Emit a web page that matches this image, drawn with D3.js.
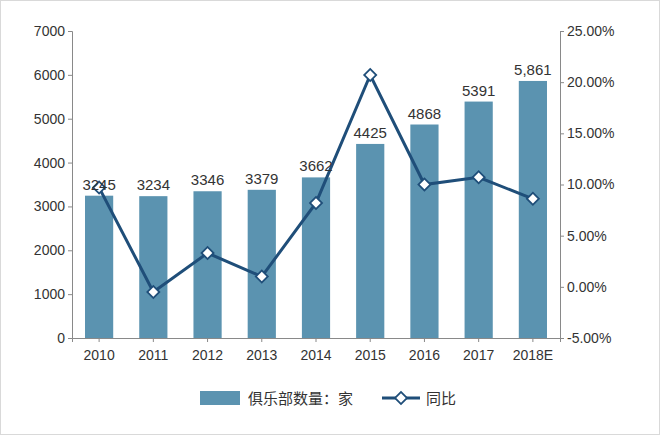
<!DOCTYPE html>
<html><head><meta charset="utf-8">
<script src="https://cdn.jsdelivr.net/npm/d3@7"></script>
<style>
body{margin:0;background:#fff;}
text{font-family:"Liberation Sans","Noto Sans CJK SC",sans-serif;}
</style></head>
<body>
<svg id="chart" width="660" height="435"></svg>
<script>
const years = ['2010','2011','2012','2013','2014','2015','2016','2017','2018E'];
const clubs = [3245, 3234, 3346, 3379, 3662, 4425, 4868, 5391, 5861];
const clubLabels = ['3245','3234','3346','3379','3662','4425','4868','5391','5,861'];
const growth = [9.7, -0.5, 3.3, 1.0, 8.2, 20.7, 10.0, 10.7, 8.6];
const leftTicks = [0,1000,2000,3000,4000,5000,6000,7000];
const rightTicks = [-5,0,5,10,15,20,25];

const svg = d3.select('#chart');
svg.append('rect').attr('x',0.5).attr('y',0.5).attr('width',659).attr('height',434)
  .attr('fill','#fff').attr('stroke','#d9d9d9');
const m = {l:72, r:560, t:31, b:338};

const x = d3.scaleBand().domain(years).range([m.l, m.r]).paddingInner(0.48).paddingOuter(0.24);
const yL = d3.scaleLinear().domain([0,7000]).range([m.b, m.t]);
const yR = d3.scaleLinear().domain([-5,25]).range([m.b, m.t]);

const axL = svg.append('g').attr('transform',`translate(${m.l},0)`)
  .call(d3.axisLeft(yL).tickValues(leftTicks).tickSize(4).tickFormat(d3.format('d')));
const axR = svg.append('g').attr('transform',`translate(${m.r},0)`)
  .call(d3.axisRight(yR).tickValues(rightTicks).tickSize(4).tickFormat(d => d.toFixed(2)+'%'));
const axB = svg.append('g').attr('transform',`translate(0,${m.b})`)
  .call(d3.axisBottom(x).tickSize(4));
[axL, axR, axB].forEach(g => {
  g.selectAll('path,line').attr('stroke','#898989');
  g.selectAll('text').attr('fill','#333').attr('font-size',14);
});
axB.selectAll('text').attr('dy','1.1em');

svg.append('g').selectAll('rect').data(years).enter().append('rect')
  .attr('x', d => x(d)).attr('width', x.bandwidth())
  .attr('y', (d,i) => yL(clubs[i])).attr('height', (d,i) => m.b - yL(clubs[i]))
  .attr('fill','#5b93b0');

const cx = d => x(d) + x.bandwidth()/2;
const line = d3.line().x((d,i) => cx(years[i])).y(d => yR(d));
svg.append('path').datum(growth).attr('d', line).attr('fill','none')
  .attr('stroke','#1f4e79').attr('stroke-width',3);
const marker = d3.symbol().type(d3.symbolSquare).size(72);
svg.append('g').selectAll('path').data(growth).enter().append('path')
  .attr('d', marker)
  .attr('transform', (d,i) => `translate(${cx(years[i])},${yR(d)}) rotate(45)`)
  .attr('fill','#fff').attr('stroke','#1f4e79').attr('stroke-width',1.8);

svg.append('g').selectAll('text').data(clubLabels).enter().append('text')
  .attr('x', (d,i) => cx(years[i])).attr('y', (d,i) => yL(clubs[i]) - 6)
  .attr('text-anchor','middle').attr('font-size',15).attr('fill','#333').text(d => d);

// legend
const lg = svg.append('g').attr('transform','translate(0,398)');
lg.append('rect').attr('x',200).attr('y',-7).attr('width',40).attr('height',14).attr('fill','#5b93b0');
lg.append('text').attr('x',248).attr('y',6).attr('font-size',15).attr('fill','#333').text('俱乐部数量：家');
lg.append('line').attr('x1',382).attr('x2',420).attr('y1',0).attr('y2',0).attr('stroke','#1f4e79').attr('stroke-width',3);
lg.append('path').attr('d', marker).attr('transform','translate(401,0) rotate(45)')
  .attr('fill','#fff').attr('stroke','#1f4e79').attr('stroke-width',1.8);
lg.append('text').attr('x',426).attr('y',6).attr('font-size',15).attr('fill','#333').text('同比');
</script>
</body></html>
